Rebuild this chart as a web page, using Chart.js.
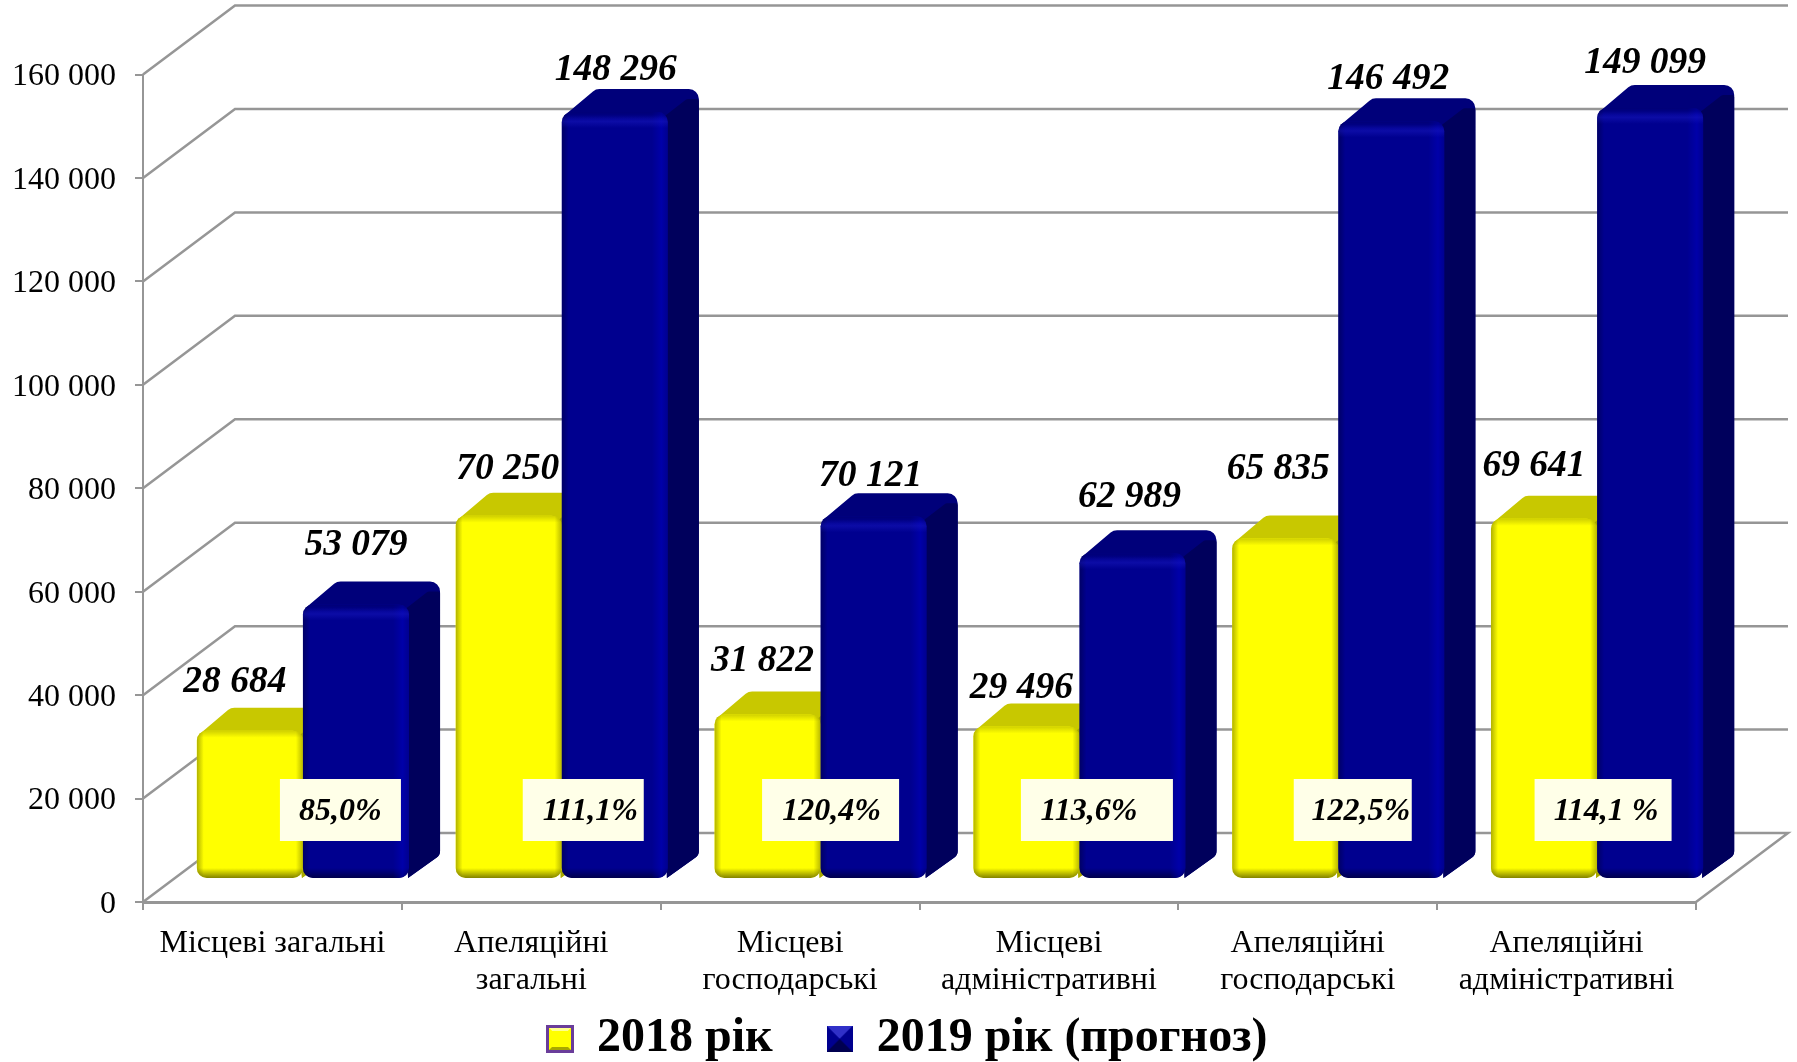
<!DOCTYPE html>
<html><head><meta charset="utf-8">
<style>html,body{margin:0;padding:0;background:#fff}canvas{display:block}</style>
<script src="https://cdn.jsdelivr.net/npm/chart.js@4"></script>
</head><body>
<canvas id="c" width="1797" height="1062"></canvas>
<script>
const categories = [["Місцеві загальні"],["Апеляційні","загальні"],["Місцеві","господарські"],["Місцеві","адміністративні"],["Апеляційні","господарські"],["Апеляційні","адміністративні"]];
const series2018 = [28684,70250,31822,29496,65835,69641];
const series2019 = [53079,148296,70121,62989,146492,149099];
const seriesNames = ["2018 рік","2019 рік (прогноз)"];
const ratioLabels = ["85,0%","111,1%","120,4%","113,6%","122,5%","114,1 %"];
const yTicks = {min:0,max:160000,step:20000};

// 3D layout (styles only)
const WALL = {dx:92, dy:-69};
const PLANE = {dx:30.5, dy:-23};
const DEPTH = {dx:31, dy:-23};
const labelNudge = [
  {dx:[-15,-1,-5,-5,-7,-10], dy:[-48,-46,-53,-38,-69,-53]},
  {dx:[0,1,-3,-3,-3,-5], dy:[-59,-42,-40,-56,-42,-45]}
];
const boxOffset = [68,52,40.5,48,45,36.5];
const boxWidth = [121,121,137,152,118,137];
const boxTextOffset = [0,7,1,-8,8,3];
const boxY = {top:779,bottom:841,text:812};
const SERIF = '"Liberation Serif","Times New Roman",serif';
const palette = [
 {front:'#ffff00',top:'#c8c800',side:'#a8a800',dark:'rgba(100,100,0,'},
 {front:'#00008f',top:'#00007a',side:'#00005c',dark:'rgba(0,0,60,'}
];

function fmt(v){return String(v).replace(/\B(?=(\d{3})+$)/g,' ');}

function swatch(size,fill,dark,light,border,inset){
  const s=size,c=document.createElement('canvas');c.width=s;c.height=s;
  const x=c.getContext('2d');
  const tri=(col,p)=>{x.fillStyle=col;x.beginPath();x.moveTo(p[0],p[1]);x.lineTo(p[2],p[3]);x.lineTo(p[4],p[5]);x.closePath();x.fill();};
  x.fillStyle=fill;x.fillRect(0,0,s,s);
  tri(light,[0,0,s,0,s/2,s/2]);
  tri(fill,[0,0,0,s,s/2,s/2]);
  tri(fill,[s,0,s,s,s/2,s/2]);
  tri(dark,[0,s,s,s,s/2,s/2]);
  if(inset){x.fillStyle=fill;x.fillRect(inset,inset,s-2*inset,s-2*inset);}
  if(border){x.strokeStyle=border;x.lineWidth=3;x.strokeRect(1.5,1.5,s-3,s-3);}
  return c;
}
const swatches=[swatch(28,'#ffff00','#a8a800','#ffff90','#6a3d9a',6),swatch(26,'#00008f','#000050','#3030c8',null,0)];

// vertices: [x, y, radius]
function roundPoly(ctx,pts){
  ctx.beginPath();
  const n=pts.length;
  ctx.moveTo((pts[n-1][0]+pts[0][0])/2,(pts[n-1][1]+pts[0][1])/2);
  for(let i=0;i<n;i++){const a=pts[i],b=pts[(i+1)%n];ctx.arcTo(a[0],a[1],(a[0]+b[0])/2,(a[1]+b[1])/2,a[2]);}
  ctx.closePath();
}

function drawExtrusion(chart,index,meta){
  const {ctx}=chart,p=palette[index],d=DEPTH;
  meta.data.forEach(el=>{
    const {x,y,base,width}=el.getProps(['x','y','base','width'],true);
    const l=x-width/2,r=x+width/2;
    // silhouette in the colour of the top face
    ctx.fillStyle=p.top;
    roundPoly(ctx,[[l+2,y+4,0],[l+d.dx+3,y+d.dy,10],[r+d.dx,y+d.dy,10],[r+d.dx,base+d.dy,8],[r-1,base,0],[r-10,y+10,0]]);
    ctx.fill();
    // side face
    ctx.fillStyle=p.side;
    roundPoly(ctx,[[r-3,y+4,0],[r+d.dx-12,y+d.dy+10,4],[r+d.dx,y+d.dy+10,2],[r+d.dx,base+d.dy,8],[r-1,base,0],[r-10,y+10,0]]);
    ctx.fill();
  });
}
function drawBevel(chart,index,meta){
  const {ctx}=chart,p=palette[index];
  meta.data.forEach(el=>{
    const {x,y,base,width}=el.getProps(['x','y','base','width'],true);
    const l=x-width/2,r=x+width/2,b=7;
    ctx.save();
    ctx.beginPath();ctx.roundRect(l,y,width,base-y,10);ctx.clip();
    let g=ctx.createLinearGradient(0,base-b-3,0,base);
    g.addColorStop(0,p.dark+'0)');g.addColorStop(1,p.dark+'0.8)');
    ctx.fillStyle=g;ctx.fillRect(l,base-b-3,width,b+3);
    g=ctx.createLinearGradient(l,0,l+b,0);
    g.addColorStop(0,p.dark+'0.5)');g.addColorStop(1,p.dark+'0)');
    ctx.fillStyle=g;ctx.fillRect(l,y,b,base-y);
    if(index===0){
      g=ctx.createLinearGradient(r-b,0,r,0);
      g.addColorStop(0,p.dark+'0)');g.addColorStop(1,p.dark+'0.45)');
      ctx.fillStyle=g;ctx.fillRect(r-b,y,b,base-y);
    }else{
      g=ctx.createLinearGradient(r-16,0,r,0);
      g.addColorStop(0,'rgba(0,0,190,0)');g.addColorStop(.6,'rgba(0,0,190,0.55)');g.addColorStop(1,'rgba(0,0,190,0)');
      ctx.fillStyle=g;ctx.fillRect(r-16,y,16,base-y);
      g=ctx.createLinearGradient(0,y+3,0,y+16);
      g.addColorStop(0,'rgba(30,30,200,0)');g.addColorStop(.5,'rgba(30,30,200,0.4)');g.addColorStop(1,'rgba(30,30,200,0)');
      ctx.fillStyle=g;ctx.fillRect(l,y+3,width,13);
    }
    g=ctx.createLinearGradient(0,y,0,y+b);
    g.addColorStop(0,p.dark+'0.3)');g.addColorStop(1,p.dark+'0)');
    ctx.fillStyle=g;ctx.fillRect(l,y,width,b);
    ctx.restore();
  });
}

const bar3d={
  id:'bar3d',
  afterLayout(chart){
    const l=chart.legend,w=l.right-l.left;
    l.left=493;l.right=493+w;l.top=1037-22-l.options.labels.padding;
    chart.scales.x.bottom=1025;   // keep the two-line tick labels inside the axis clip box
  },
  beforeDatasetsDraw(chart){
    const {ctx,chartArea:a,scales:{y}}=chart;
    ctx.save();
    ctx.strokeStyle='#969696';ctx.lineWidth=2.5;ctx.lineJoin='miter';
    y.ticks.forEach(t=>{
      const py=y.getPixelForValue(t.value);
      ctx.beginPath();
      ctx.moveTo(a.left,py);
      ctx.lineTo(a.left+WALL.dx,py+WALL.dy);
      ctx.lineTo(a.right+WALL.dx,py+WALL.dy);
      if(t.value===0)ctx.lineTo(a.right,py);
      ctx.stroke();
    });
    ctx.restore();
  },
  beforeDatasetDraw(chart,args){
    if(args.index===1)return false; // second series is painted over the first below
    const {ctx}=chart;
    ctx.save();
    ctx.translate(PLANE.dx,PLANE.dy);
    drawExtrusion(chart,0,args.meta);
  },
  afterDatasetDraw(chart,args){
    const {ctx}=chart;
    drawBevel(chart,0,args.meta);
    const m=chart.getDatasetMeta(1);
    drawExtrusion(chart,1,m);
    m.controller.draw();
    drawBevel(chart,1,m);
    ctx.restore();
  },
  afterDatasetsDraw(chart){
    const {ctx,scales:{x:xs}}=chart;
    ctx.save();
    ctx.fillStyle='#000';ctx.textAlign='center';ctx.textBaseline='middle';
    ctx.font='italic bold 37.5px '+SERIF;
    [0,1].forEach(ds=>{
      chart.getDatasetMeta(ds).data.forEach((el,i)=>{
        const v=chart.data.datasets[ds].data[i];
        ctx.fillText(fmt(v),el.x+PLANE.dx+labelNudge[ds].dx[i],el.y+PLANE.dy+labelNudge[ds].dy[i]);
      });
    });
    ctx.font='italic bold 32px '+SERIF;
    ratioLabels.forEach((t,i)=>{
      const c=xs.getPixelForValue(i)+boxOffset[i];
      ctx.fillStyle='#ffffe8';
      ctx.fillRect(c-boxWidth[i]/2,boxY.top,boxWidth[i],boxY.bottom-boxY.top);
      ctx.fillStyle='#000';
      ctx.fillText(t,c+boxTextOffset[i],boxY.text);
    });
    ctx.restore();
  }
};

new Chart(document.getElementById('c'),{
  type:'bar',
  plugins:[bar3d],
  data:{
    labels:categories,
    datasets:[
      {label:seriesNames[0],data:series2018,backgroundColor:palette[0].front,clip:false},
      {label:seriesNames[1],data:series2019,backgroundColor:palette[1].front,clip:false}
    ]
  },
  options:{
    responsive:false,animation:false,
    layout:{padding:{top:74.5,right:101,left:0,bottom:0}},
    datasets:{bar:{barPercentage:1,categoryPercentage:0.82,borderRadius:10,borderSkipped:false,inflateAmount:0}},
    scales:{
      x:{
        afterFit(s){s.height=1062-902-s.chart.legend.height;},
        border:{color:'#969696',width:3},
        grid:{drawOnChartArea:false,drawTicks:true,tickLength:8,color:'#969696',lineWidth:2},
        ticks:{maxRotation:0,autoSkip:false,padding:15,color:'#000',font:{family:SERIF,size:32,lineHeight:1.15}}
      },
      y:{
        min:yTicks.min,max:yTicks.max,
        afterFit(s){s.width=143;},
        border:{color:'#969696',width:2},
        grid:{drawOnChartArea:false,drawTicks:true,tickLength:8,color:'#969696',lineWidth:2},
        ticks:{stepSize:yTicks.step,padding:19,labelOffset:2.5,color:'#000',font:{family:SERIF,size:32},callback:v=>fmt(v)}
      }
    },
    plugins:{
      tooltip:{enabled:false},
      legend:{
        position:'bottom',align:'start',
        labels:{
          boxWidth:26,boxHeight:26,padding:54,usePointStyle:true,color:'#000',
          font:{family:SERIF,size:48,weight:'bold'},
          generateLabels:c=>c.data.datasets.map((d,i)=>({text:d.label,pointStyle:swatches[i],fillStyle:d.backgroundColor,strokeStyle:d.backgroundColor,lineWidth:0,datasetIndex:i,hidden:false,fontColor:'#000'}))
        }
      }
    }
  }
});
</script>
</body></html>
